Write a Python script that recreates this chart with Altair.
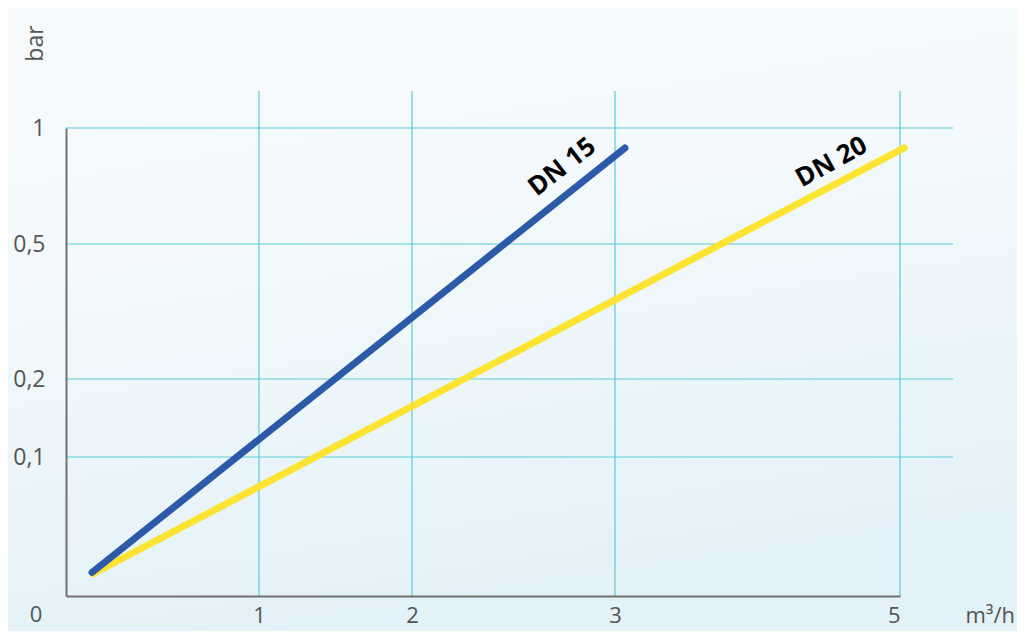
import altair as alt
import pandas as pd

# ---- values ----
x_ticks = [1, 2, 3, 5]
y_ticks = [0.1, 0.2, 0.5, 1]

dn15_x = [0.135, 3.07]
dn15_y = [0.017, 0.914]
dn20_x = [0.14, 5.03]
dn20_y = [0.016, 0.914]

label_text = ["DN 15", "DN 20"]
label_x = [2.74, 4.52]
label_y = [0.832, 0.853]
label_angle = [322, 331]

# ---- schematic (piecewise) axis layout ----
x_domain = [0, 1, 2, 3, 5]
x_range = [0, 193, 346, 549, 834]
y_domain = [0, 0.1, 0.2, 0.5, 1]
y_range = [581, 442, 364, 229, 113]

W, H = 951, 581
FONT = "Open Sans"
LABEL_COLOR = "#555555"
AXIS_COLOR = "#707070"
GRID_COLOR = "#5ccbd6"
BLUE = "#2c5aa8"
YELLOW = "#fde332"
XPAD = 19
FS = 23
XFS = 22

xscale = alt.Scale(domain=x_domain, range=x_range, nice=False, zero=False)
yscale = alt.Scale(domain=y_domain, range=y_range, nice=False, zero=False)

xaxis = alt.Axis(
    values=x_ticks, grid=False, ticks=False, domainColor=AXIS_COLOR, domainWidth=2,
    labelFont=FONT, labelFontSize=XFS, labelColor=LABEL_COLOR, labelPadding=XPAD,
    labelBaseline="middle", zindex=2,
    title="m³/h", titleFont=FONT, titleFontSize=XFS, titleFontWeight="normal",
    titleColor=LABEL_COLOR, titleX=899, titleY=XPAD, titleAlign="left",
    titleBaseline="middle", titleAnchor="start",
)
yaxis = alt.Axis(
    values=y_ticks, grid=False, ticks=False, domainColor=AXIS_COLOR, domainWidth=2,
    labelFont=FONT, labelFontSize=FS, labelColor=LABEL_COLOR, labelPadding=21,
    labelExpr="replace(toString(datum.value), '.', ',')", zindex=2,
    title="bar", titleFont=FONT, titleFontSize=FS, titleFontWeight="normal",
    titleColor=LABEL_COLOR, titleX=-31, titleY=28, titleAngle=270,
    titleAlign="center", titleBaseline="middle",
)

lines_df = pd.DataFrame({
    "series": ["DN 15"] * 2 + ["DN 20"] * 2,
    "x": dn15_x + dn20_x,
    "y": dn15_y + dn20_y,
})
labels_df = pd.DataFrame({"text": label_text, "x": label_x, "y": label_y, "angle": label_angle})
hgrid_df = pd.DataFrame({"y": y_ticks})
vgrid_df = pd.DataFrame({"x": x_ticks})
origin_df = pd.DataFrame({"x": [0], "y": [0], "text": ["0"]})

bg = alt.Chart(alt.Data(values=[{}])).mark_rect(
    fill=alt.LinearGradient(
        gradient="linear", x1=0, y1=0, x2=0.25, y2=1,
        stops=[alt.GradientStop(color="#f7fafc", offset=0),
               alt.GradientStop(color="#f3f9fc", offset=0.4),
               alt.GradientStop(color="#e3f2f8", offset=1)],
    )
).encode(x=alt.value(-58), x2=alt.value(W), y=alt.value(-7), y2=alt.value(H + 35))

hgrid = alt.Chart(hgrid_df).mark_rule(color=GRID_COLOR, strokeWidth=1.2).encode(
    y=alt.Y("y:Q", scale=yscale, axis=yaxis),
    x=alt.value(0), x2=alt.value(887),
)
vgrid = alt.Chart(vgrid_df).mark_rule(color=GRID_COLOR, strokeWidth=1.2).encode(
    x=alt.X("x:Q", scale=xscale, axis=xaxis),
    y=alt.value(76), y2=alt.value(H),
)

def line_layer(name, color):
    return alt.Chart(lines_df).transform_filter(
        alt.datum.series == name
    ).mark_line(color=color, strokeWidth=7, strokeCap="round").encode(
        x=alt.X("x:Q", scale=xscale, axis=xaxis),
        y=alt.Y("y:Q", scale=yscale, axis=yaxis),
    )

texts = alt.Chart(labels_df).mark_text(
    font=FONT, fontSize=26, fontWeight="bold", color="#000000",
    align="center", baseline="middle",
).encode(
    x=alt.X("x:Q", scale=xscale, axis=xaxis),
    y=alt.Y("y:Q", scale=yscale, axis=yaxis),
    text="text:N",
    angle=alt.Angle("angle:Q", scale=None),
)

origin = alt.Chart(origin_df).mark_text(
    font=FONT, fontSize=XFS, color=LABEL_COLOR, align="center", baseline="middle",
    dx=-30, dy=XPAD,
).encode(
    x=alt.X("x:Q", scale=xscale, axis=xaxis),
    y=alt.Y("y:Q", scale=yscale, axis=yaxis),
    text="text:N",
)

chart = alt.layer(
    bg, hgrid, vgrid, line_layer("DN 20", YELLOW), line_layer("DN 15", BLUE), texts, origin
).properties(
    width=W, height=H,
    autosize=alt.AutoSizeParams(type="none"),
    padding={"left": 58, "top": 7, "right": 0, "bottom": 35},
).configure(background="#eef6fa").configure_view(stroke=None)

chart.save("out.html", embed_options={"renderer": "svg", "actions": False})
